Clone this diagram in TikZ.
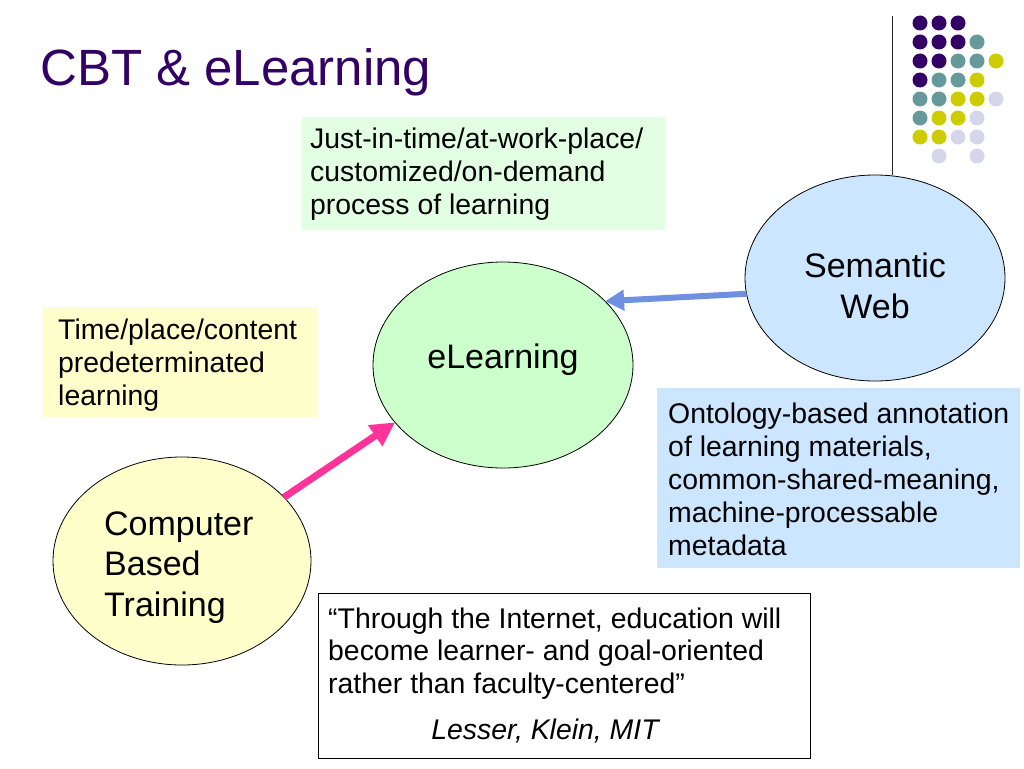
\documentclass[tikz,border=0pt]{standalone}
\usepackage{fontspec}
\setmainfont{Liberation Sans}
\usetikzlibrary{shapes.geometric,arrows.meta}
\definecolor{titlec}{HTML}{330066}
\definecolor{dotP}{HTML}{330066}
\definecolor{dotT}{HTML}{669999}
\definecolor{dotY}{HTML}{CCCC00}
\definecolor{dotL}{HTML}{D6D6EB}
\definecolor{elgreen}{HTML}{CCFFCC}
\definecolor{cbtyellow}{HTML}{FFFFCC}
\definecolor{swblue}{HTML}{CCE6FF}
\definecolor{boxgreen}{HTML}{E3FFE3}
\definecolor{boxyellow}{HTML}{FFFFCC}
\definecolor{boxblue}{HTML}{CCE6FF}
\definecolor{pinkc}{HTML}{FF3399}
\definecolor{bluec}{HTML}{6F8FE0}
\newcommand\setfs[2]{\fontsize{#1pt}{#2pt}\selectfont}
\begin{document}
\begin{tikzpicture}[x=1pt,y=-1pt,
  ell/.style={ellipse, draw=black, line width=0.8pt, inner sep=0pt, outer sep=0pt,
              minimum width=260pt, minimum height=206pt},
  tbox/.style={rectangle, inner sep=0pt, outer sep=0pt, anchor=north west},
  txt/.style={anchor=base west, align=left, inner sep=0pt, font=\setfs{28.4}{33}},
  bigtxt/.style={inner sep=0pt, font=\setfs{34}{40.5}}]
\useasboundingbox (0,0) rectangle (1024,768);

% title
\node[anchor=base west, inner sep=0pt, text=titlec, font=\setfs{51}{61}] (title) at (40,85) {CBT \& eLearning};

% decorative line and dots
\coordinate (vtop) at (892,16);
\foreach \r/\c/\col in {0/0/dotP,0/1/dotP,0/2/dotP,
  1/0/dotP,1/1/dotP,1/2/dotP,1/3/dotT,
  2/0/dotP,2/1/dotP,2/2/dotT,2/3/dotT,2/4/dotY,
  3/0/dotP,3/1/dotT,3/2/dotT,3/3/dotY,
  4/0/dotT,4/1/dotT,4/2/dotY,4/3/dotY,4/4/dotL,
  5/0/dotT,5/1/dotY,5/2/dotY,5/3/dotL,
  6/0/dotY,6/1/dotY,6/2/dotL,6/3/dotL,
  7/1/dotL,7/3/dotL}
  \fill[\col] ({920+19*\c},{23+19*\r}) circle (7.5);

% text boxes (multi-line text nodes are placed by the baseline of their last line)
\node[tbox, fill=boxgreen, minimum width=363pt, minimum height=113pt] (jitbox) at (302,117) {};
\node[txt] (jit) at (310,214) {Just-in-time/at-work-place/\\customized/on-demand\\process of learning};

\node[tbox, fill=boxyellow, minimum width=275pt, minimum height=110pt] (tpbox) at (43,307) {};
\node[txt] (tp) at (58,405) {Time/place/content\\predeterminated\\learning};

\node[tbox, fill=boxblue, minimum width=363pt, minimum height=180pt] (onbox) at (657,388) {};
\node[txt] (on) at (668,555) {Ontology-based annotation\\of learning materials,\\common-shared-meaning,\\machine-processable\\metadata};

\node[tbox, fill=white, draw=black, line width=0.8pt, minimum width=492pt, minimum height=165pt] (qbox) at (318,593) {};
\node[txt, font=\setfs{28.4}{32.5}] (quote) at (328,693) {``Through the Internet, education will\\become learner- and goal-oriented\\rather than faculty-centered''};
\node[anchor=base, inner sep=0pt, font=\setfs{28.4}{33}\itshape] (author) at (545,739) {Lesser, Klein, MIT};

% ellipses
\node[ell, fill=elgreen] (el) at (503,365) {};
\node[ell, fill=swblue] (sw) at (875,278) {};
\node[ell, fill=cbtyellow, minimum width=258pt, minimum height=208pt] (cbt) at (182,561) {};

\draw[black!85, line width=0.8pt] (vtop) -- (vtop |- sw.north);

\node[bigtxt, anchor=base] (eltxt) at (503,368) {eLearning};
\node[bigtxt, anchor=base, align=center] (swtxt) at (875,318) {Semantic\\Web};
\node[bigtxt, anchor=base west, align=left] (cbttxt) at (104,616) {Computer\\Based\\Training};

% arrows
\draw[pinkc, line width=7pt, -{Triangle[length=24pt,width=24pt]}] (cbt.32) -- (el.208);
\draw[bluec, line width=6pt, -{Triangle[length=19pt,width=20pt]}] (sw.187) -- (el.32);
\end{tikzpicture}
\end{document}
